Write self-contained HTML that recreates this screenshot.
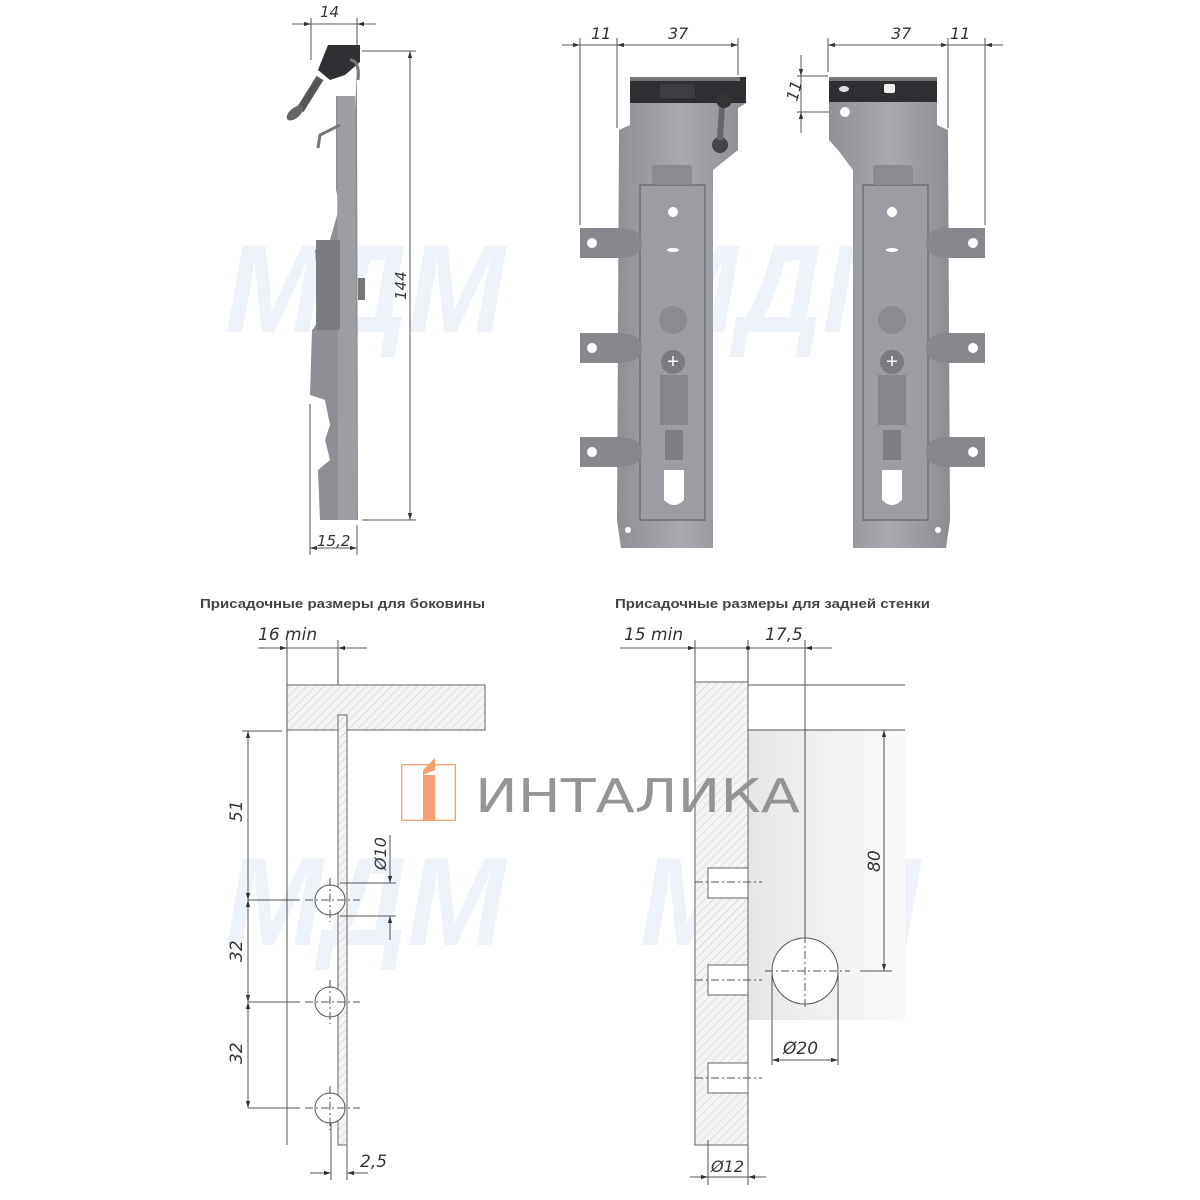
<!DOCTYPE html>
<html><head><meta charset="utf-8"><style>
html,body{margin:0;padding:0;background:#fff;}
svg{display:block;}
.d{font-family:"DejaVu Sans","Liberation Sans",sans-serif;font-style:italic;fill:#333;}
.h{font-family:"Liberation Sans","DejaVu Sans",sans-serif;font-weight:bold;fill:#444;}
</style></head><body>
<svg width="1200" height="1200" viewBox="0 0 1200 1200" xmlns="http://www.w3.org/2000/svg">
<defs>
<pattern id="hat" width="6" height="6" patternUnits="userSpaceOnUse" patternTransform="rotate(45)">
<rect width="6" height="6" fill="#f4f4f4"/><line x1="0" y1="0" x2="0" y2="6" stroke="#c8c8c8" stroke-width="1"/></pattern>
<marker id="a" viewBox="0 0 10 10" refX="10" refY="5" markerWidth="9" markerHeight="7" orient="auto-start-reverse"><path d="M0,2 L10,5 L0,8z" fill="#333"/></marker>
<linearGradient id="gr" x1="0" x2="1"><stop offset="0" stop-color="#e6e6e6"/><stop offset="1" stop-color="#fafafa"/></linearGradient>
<linearGradient id="pl" x1="0" x2="1"><stop offset="0" stop-color="#8f9096"/><stop offset="0.5" stop-color="#a9aab0"/><stop offset="1" stop-color="#8c8d93"/></linearGradient>
</defs>

<!-- watermarks MDM -->
<g fill="#edf3f9" font-family="Liberation Sans,sans-serif" font-weight="bold" font-style="italic" font-size="125">
<text x="225" y="332" textLength="280" lengthAdjust="spacingAndGlyphs">МДМ</text>
<text x="640" y="332" textLength="280" lengthAdjust="spacingAndGlyphs">МДМ</text>
<text x="225" y="945" textLength="280" lengthAdjust="spacingAndGlyphs">МДМ</text>
<text x="640" y="945" textLength="280" lengthAdjust="spacingAndGlyphs">МДМ</text>
</g>

<!-- ===== Side view ===== -->
<g stroke="#555" stroke-width="1" fill="none">
<line x1="311" y1="18" x2="311" y2="60"/><line x1="357" y1="18" x2="357" y2="45"/>
<line x1="292" y1="24" x2="311" y2="24" marker-end="url(#a)"/><line x1="376" y1="24" x2="357" y2="24" marker-end="url(#a)"/>
<line x1="311" y1="24" x2="357" y2="24"/>
<line x1="362" y1="51" x2="416" y2="51"/><line x1="362" y1="520" x2="416" y2="520"/>
<line x1="410" y1="51" x2="410" y2="520" marker-start="url(#a)" marker-end="url(#a)"/>
<line x1="310" y1="404" x2="310" y2="555"/><line x1="357" y1="525" x2="357" y2="555"/>
<line x1="310" y1="548" x2="357" y2="548" marker-start="url(#a)" marker-end="url(#a)"/>
</g>
<text class="d" x="320" y="17" font-size="15">14</text>
<text class="d" x="0" y="0" font-size="15" transform="translate(406,300) rotate(-90)">144</text>
<text class="d" x="317" y="546" font-size="15">15,2</text>
<!-- side body -->
<path d="M336,96 L355,96 L355,110 L357,70 L358,520 L320,520 L318,470 L330,460 L325,440 L330,425 L325,400 L310,395 L312,330 L320,320 L315,250 L330,240 L340,205 L336,190 L336,150 L336,96z" fill="#8e8f95"/>
<path d="M337,96 L355,96 L357,520 L338,520z" fill="#9d9ea4"/>
<path d="M358,278 L365,278 L365,300 L358,300z" fill="#777"/>
<path d="M316,240 L340,240 L340,330 L316,330z" fill="#7b7c82"/>
<path d="M328,45 L360,45 L360,62 L345,75 L330,80 L318,70z" fill="#2f3033"/>
<path d="M320,78 L300,110" stroke="#555" stroke-width="8"/>
<ellipse cx="295" cy="113" rx="10" ry="5" fill="#666" transform="rotate(-40 295 113)"/>
<path d="M350,60 Q360,60 358,80" stroke="#777" stroke-width="3" fill="none"/>
<path d="M340,125 L320,135 L318,148" stroke="#777" stroke-width="3" fill="none"/>

<!-- ===== Front view left ===== -->
<g stroke="#555" stroke-width="1" fill="none">
<line x1="580" y1="38" x2="580" y2="225"/><line x1="617" y1="38" x2="617" y2="128"/><line x1="738" y1="38" x2="738" y2="75"/>
<line x1="562" y1="45" x2="580" y2="45" marker-end="url(#a)"/>
<line x1="580" y1="45" x2="617" y2="45"/>
<line x1="617" y1="45" x2="738" y2="45" marker-start="url(#a)" marker-end="url(#a)"/>
</g>
<text class="d" x="591" y="39" font-size="16">11</text>
<text class="d" x="668" y="39" font-size="16">37</text>
<g>
<path d="M630,77 L746,77 L746,103 L738,108 L738,150 L713,170 L713,548 L621,548 L617,520 L619,130 L630,125z" fill="url(#pl)"/>
<rect x="630" y="77" width="116" height="26" fill="#2e2f32"/><rect x="630" y="77" width="110" height="4" fill="#777"/>
<rect x="660" y="84" width="35" height="14" fill="#3d3e42"/>
<rect x="640" y="185" width="65" height="335" fill="#9c9da3" stroke="#6f7075" stroke-width="1.5"/>
<rect x="652" y="165" width="40" height="20" rx="3" fill="#8a8b90"/>
<circle cx="673" cy="212" r="5" fill="#fff"/>
<ellipse cx="673" cy="250" rx="6" ry="2" fill="#fff"/>
<circle cx="673" cy="320" r="14" fill="#8a8b90"/><circle cx="673" cy="362" r="12" fill="#7a7b80"/>
<text x="673" y="368" text-anchor="middle" font-size="20" fill="#fff" font-family="Liberation Sans">+</text>
<rect x="660" y="375" width="28" height="50" fill="#85868b"/>
<rect x="665" y="430" width="18" height="30" fill="#7d7e83"/>
<path d="M664,470 L684,470 L684,500 Q674,510 664,500z" fill="#fff"/>
<circle cx="628" cy="530" r="3" fill="#fff"/>
</g>
<g fill="#87888d">
<rect x="580" y="228" width="45" height="30"/><circle cx="628" cy="243" r="14"/>
<rect x="580" y="333" width="45" height="30"/><circle cx="628" cy="348" r="14"/>
<rect x="580" y="437" width="45" height="30"/><circle cx="628" cy="452" r="14"/>
</g>
<g fill="#fff"><circle cx="592" cy="243" r="5"/><circle cx="592" cy="348" r="5"/><circle cx="592" cy="452" r="5"/></g>
<circle cx="720" cy="145" r="8" fill="#444"/>
<line x1="722" y1="105" x2="720" y2="140" stroke="#666" stroke-width="6"/>
<circle cx="724" cy="100" r="8" fill="#333"/>

<!-- ===== Front view right ===== -->
<g stroke="#555" stroke-width="1" fill="none">
<line x1="828" y1="38" x2="828" y2="72"/><line x1="948" y1="38" x2="948" y2="128"/><line x1="985" y1="38" x2="985" y2="225"/>
<line x1="828" y1="45" x2="948" y2="45" marker-start="url(#a)" marker-end="url(#a)"/>
<line x1="948" y1="45" x2="985" y2="45"/>
<line x1="1003" y1="45" x2="985" y2="45" marker-end="url(#a)"/>
<line x1="797" y1="76" x2="828" y2="76"/><line x1="797" y1="112" x2="862" y2="112"/>
<line x1="801" y1="55" x2="801" y2="76" marker-end="url(#a)"/><line x1="801" y1="133" x2="801" y2="112" marker-end="url(#a)"/>
<line x1="801" y1="76" x2="801" y2="112"/>
</g>
<text class="d" x="891" y="39" font-size="16">37</text>
<text class="d" x="950" y="39" font-size="16">11</text>
<text class="d" x="0" y="0" font-size="16" transform="translate(797,102) rotate(-75)">11</text>
<g>
<path d="M829,77 L937,77 L937,125 L948,130 L950,520 L946,548 L853,548 L853,170 L838,150 L829,140z" fill="url(#pl)"/>
<rect x="829" y="77" width="108" height="25" fill="#2e2f32"/><rect x="829" y="77" width="108" height="4" fill="#777"/>
<ellipse cx="844" cy="89" rx="5" ry="3" fill="#ddd"/><rect x="884" y="84" width="11" height="9" rx="2" fill="#eee"/>
<circle cx="845" cy="112" r="5" fill="#fff"/>
<rect x="863" y="185" width="65" height="335" fill="#9c9da3" stroke="#6f7075" stroke-width="1.5"/>
<rect x="873" y="165" width="40" height="20" rx="3" fill="#8a8b90"/>
<circle cx="892" cy="212" r="5" fill="#fff"/>
<ellipse cx="892" cy="250" rx="6" ry="2" fill="#fff"/>
<circle cx="892" cy="320" r="14" fill="#8a8b90"/><circle cx="892" cy="362" r="12" fill="#7a7b80"/>
<text x="892" y="368" text-anchor="middle" font-size="20" fill="#fff" font-family="Liberation Sans">+</text>
<rect x="878" y="375" width="28" height="50" fill="#85868b"/>
<rect x="883" y="430" width="18" height="30" fill="#7d7e83"/>
<path d="M882,470 L902,470 L902,500 Q892,510 882,500z" fill="#fff"/>
<circle cx="938" cy="530" r="3" fill="#fff"/>
</g>
<g fill="#87888d">
<rect x="940" y="228" width="45" height="30"/><circle cx="940" cy="243" r="14"/>
<rect x="940" y="333" width="45" height="30"/><circle cx="940" cy="348" r="14"/>
<rect x="940" y="437" width="45" height="30"/><circle cx="940" cy="452" r="14"/>
</g>
<g fill="#fff"><circle cx="973" cy="243" r="5"/><circle cx="973" cy="348" r="5"/><circle cx="973" cy="452" r="5"/></g>

<!-- headings -->
<text class="h" x="200" y="608" font-size="13" textLength="285" lengthAdjust="spacingAndGlyphs">Присадочные размеры для боковины</text>
<text class="h" x="615" y="608" font-size="13" textLength="315" lengthAdjust="spacingAndGlyphs">Присадочные размеры для задней стенки</text>

<!-- ===== Bottom left ===== -->
<rect x="287" y="685" width="198" height="45" fill="url(#hat)" stroke="#666" stroke-width="1"/>
<rect x="338" y="715" width="9" height="430" fill="url(#hat)" stroke="#666" stroke-width="1"/>
<g stroke="#555" stroke-width="1" fill="none">
<line x1="287" y1="640" x2="287" y2="1145"/><line x1="338" y1="640" x2="338" y2="685"/>
<line x1="258" y1="648" x2="287" y2="648" marker-end="url(#a)"/><line x1="367" y1="648" x2="338" y2="648" marker-end="url(#a)"/>
<line x1="287" y1="648" x2="338" y2="648"/>
<line x1="242" y1="731" x2="282" y2="731"/>
<line x1="248" y1="731" x2="248" y2="900" marker-start="url(#a)" marker-end="url(#a)"/>
<line x1="248" y1="900" x2="248" y2="1002" marker-start="url(#a)" marker-end="url(#a)"/>
<line x1="248" y1="1002" x2="248" y2="1108" marker-start="url(#a)" marker-end="url(#a)"/>
<line x1="248" y1="900" x2="300" y2="900"/><line x1="248" y1="1002" x2="300" y2="1002"/><line x1="248" y1="1108" x2="300" y2="1108"/>
<line x1="340" y1="883" x2="396" y2="883"/><line x1="340" y1="916" x2="396" y2="916"/>
<line x1="390" y1="835" x2="390" y2="883" marker-end="url(#a)"/><line x1="390" y1="940" x2="390" y2="916" marker-end="url(#a)"/>
<line x1="331" y1="1120" x2="331" y2="1180"/><line x1="347" y1="1145" x2="347" y2="1180"/>
<line x1="310" y1="1173" x2="331" y2="1173" marker-end="url(#a)"/><line x1="368" y1="1173" x2="347" y2="1173" marker-end="url(#a)"/>
</g>
<g fill="#fff" stroke="#555" stroke-width="1">
<circle cx="330" cy="900" r="15"/><circle cx="330" cy="1002" r="15"/><circle cx="330" cy="1108" r="15"/>
</g>
<g stroke="#555" stroke-width="1" stroke-dasharray="8,3,2,3">
<line x1="305" y1="900" x2="360" y2="900"/><line x1="330" y1="878" x2="330" y2="922"/>
<line x1="305" y1="1002" x2="360" y2="1002"/><line x1="330" y1="980" x2="330" y2="1024"/>
<line x1="305" y1="1108" x2="360" y2="1108"/><line x1="330" y1="1086" x2="330" y2="1130"/>
</g>
<text class="d" x="258" y="640" font-size="17">16 min</text>
<text class="d" font-size="17" transform="translate(242,822) rotate(-90)">51</text>
<text class="d" font-size="17" transform="translate(242,962) rotate(-90)">32</text>
<text class="d" font-size="17" transform="translate(242,1064) rotate(-90)">32</text>
<text class="d" font-size="16" transform="translate(386,870) rotate(-90)">Ø10</text>
<text class="d" x="360" y="1167" font-size="17">2,5</text>

<!-- ===== Bottom right ===== -->
<rect x="748" y="730" width="157" height="290" fill="url(#gr)"/>
<rect x="695" y="682" width="53" height="463" fill="url(#hat)" stroke="#666" stroke-width="1"/>
<g fill="#fff" stroke="#666" stroke-width="1">
<rect x="708" y="868" width="40" height="30"/><rect x="708" y="965" width="40" height="30"/><rect x="708" y="1063" width="40" height="30"/>
</g>
<g stroke="#555" stroke-width="1" fill="none">
<line x1="695" y1="640" x2="695" y2="682"/><line x1="748" y1="640" x2="748" y2="682"/><line x1="805" y1="640" x2="805" y2="940"/>
<line x1="620" y1="648" x2="695" y2="648" marker-end="url(#a)"/>
<line x1="695" y1="648" x2="805" y2="648"/>
<line x1="832" y1="648" x2="805" y2="648" marker-end="url(#a)"/>
<line x1="748" y1="685" x2="905" y2="685"/><line x1="748" y1="730" x2="905" y2="730"/>
<line x1="860" y1="971" x2="892" y2="971"/>
<line x1="884" y1="730" x2="884" y2="971" marker-start="url(#a)" marker-end="url(#a)"/>
<line x1="772" y1="975" x2="772" y2="1065"/><line x1="838" y1="975" x2="838" y2="1065"/>
<line x1="772" y1="1060" x2="838" y2="1060" marker-start="url(#a)" marker-end="url(#a)"/>
<line x1="708" y1="1140" x2="708" y2="1185"/><line x1="748" y1="1145" x2="748" y2="1185"/>
<line x1="690" y1="1177" x2="708" y2="1177" marker-end="url(#a)"/><line x1="766" y1="1177" x2="748" y2="1177" marker-end="url(#a)"/>
<line x1="708" y1="1177" x2="748" y2="1177"/>
</g>
<circle cx="748" cy="648" r="2" fill="#333"/>
<circle cx="805" cy="971" r="33" fill="#fff" stroke="#555" stroke-width="1"/>
<g stroke="#555" stroke-width="1" stroke-dasharray="8,3,2,3">
<line x1="765" y1="971" x2="850" y2="971"/><line x1="805" y1="935" x2="805" y2="1010"/>
<line x1="695" y1="882" x2="762" y2="882"/><line x1="695" y1="980" x2="762" y2="980"/><line x1="695" y1="1078" x2="762" y2="1078"/>
</g>
<text class="d" x="624" y="640" font-size="17">15 min</text>
<text class="d" x="765" y="640" font-size="17">17,5</text>
<text class="d" font-size="17" transform="translate(880,872) rotate(-90)">80</text>
<text class="d" x="783" y="1054" font-size="17">Ø20</text>
<text class="d" x="711" y="1172" font-size="16">Ø12</text>

<!-- logo -->
<g>
<rect x="402" y="765" width="53" height="55" fill="none" stroke="#f6a57a" stroke-width="2"/>
<rect x="402" y="765" width="53" height="55" fill="#fff" opacity="0.6"/>
<rect x="423" y="775" width="12" height="45" fill="#f4a070"/>
<path d="M423,770 L435,758 L435,770 L423,775z" fill="#f4a070"/>
</g>
<text x="475" y="812" font-family="DejaVu Sans,Liberation Sans,sans-serif" font-size="46" fill="#8a8a8a" opacity="0.9" textLength="325" lengthAdjust="spacingAndGlyphs">ИНТАЛИКА</text>
</svg>
</body></html>
